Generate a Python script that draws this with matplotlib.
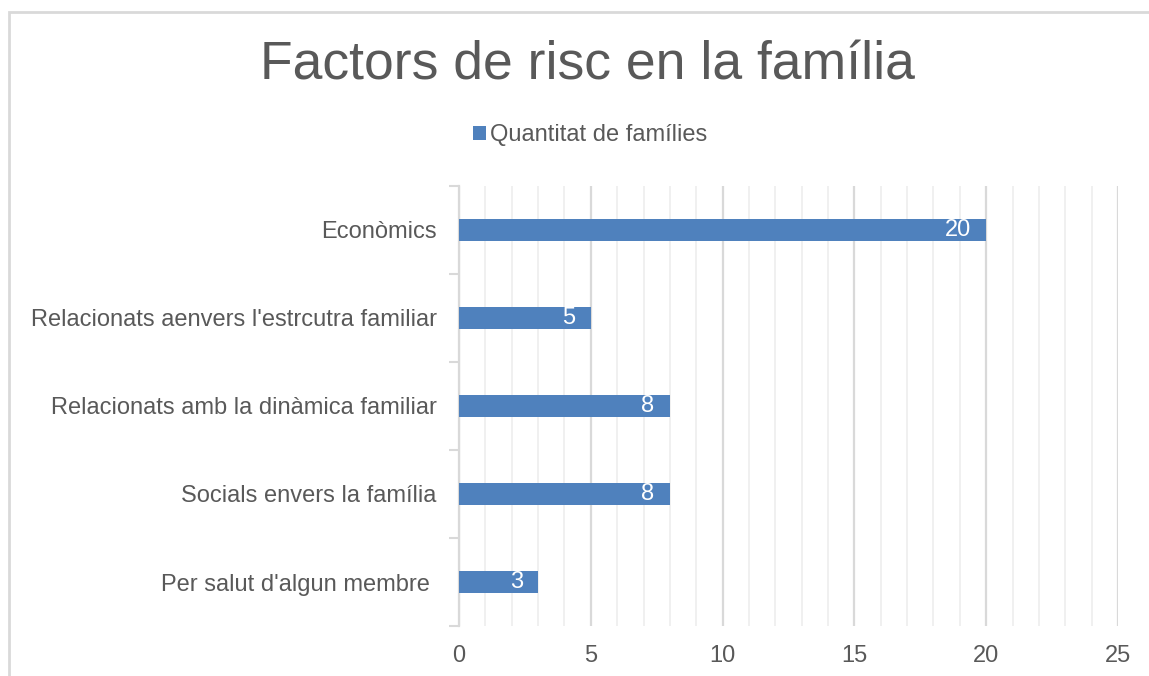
"""Horizontal bar chart: risk factors in the family (Excel-style)."""

import matplotlib

matplotlib.use("Agg")
import matplotlib.pyplot as plt
from matplotlib.patches import Rectangle
from matplotlib.ticker import MultipleLocator

categories = [
    "Econòmics",
    "Relacionats aenvers l'estrcutra familiar",
    "Relacionats amb la dinàmica familiar",
    "Socials envers la família",
    "Per salut d'algun membre ",
]
values = [20, 5, 8, 8, 3]
series_name = "Quantitat de famílies"
title = "Factors de risc en la família"

BAR_COLOR = "#4f81bd"
TEXT_COLOR = "#595959"
GRID_MAJOR = "#d9d9d9"
GRID_MINOR = "#efefef"

plt.rcParams["font.family"] = ["Liberation Sans", "DejaVu Sans"]

W, H = 1149, 676
fig = plt.figure(figsize=(W / 100, H / 100), dpi=100)
ax = fig.add_axes([459 / W, 1 - 626 / H, (1118 - 459) / W, (626 - 186) / H])

positions = list(range(len(categories)))
ax.barh(positions, values, height=0.25, color=BAR_COLOR, label=series_name, zorder=3)
ax.set_ylim(len(categories) - 0.5, -0.5)
ax.set_xlim(0, 25)

for y, v in zip(positions, values):
    ax.annotate(str(v), (v, y), xytext=(-11, 0), textcoords="offset points",
                ha="right", va="center", color="white", fontsize=17, zorder=4)

# gridlines: light every unit, darker every 5
ax.xaxis.set_major_locator(MultipleLocator(5))
ax.xaxis.set_minor_locator(MultipleLocator(1))
ax.grid(axis="x", which="minor", color=GRID_MINOR, linewidth=1.3, zorder=0)
ax.grid(axis="x", which="major", color=GRID_MAJOR, linewidth=1.6, zorder=1)
ax.tick_params(axis="x", which="both", length=0, pad=14, labelsize=17, labelcolor=TEXT_COLOR)

ax.set_yticks(positions)
ax.set_yticklabels(categories)
ax.set_yticks([p - 0.5 for p in range(len(categories) + 1)], minor=True)
ax.tick_params(axis="y", which="major", length=0, pad=16, labelsize=17, labelcolor=TEXT_COLOR)
ax.tick_params(axis="y", which="minor", length=7, width=1.5, color=GRID_MAJOR)

for side in ("top", "right", "bottom"):
    ax.spines[side].set_visible(False)
ax.spines["left"].set_color(GRID_MAJOR)
ax.spines["left"].set_linewidth(1.6)
ax.spines["left"].set_zorder(2)

fig.text(587 / W, 1 - 66 / H, title, ha="center", va="center",
         fontsize=38.5, color=TEXT_COLOR)

fig.legend(loc="center", bbox_to_anchor=(590 / W, 1 - 135 / H), frameon=False,
           fontsize=17, labelcolor=TEXT_COLOR, handlelength=0.55, handleheight=0.55,
           handletextpad=0.2, borderpad=0)

# chart area border (cropped at right and bottom in the source image)
fig.add_artist(Rectangle((8.5 / W, -0.1), 1.2, 1.1 - 12.5 / H, transform=fig.transFigure,
                         fill=False, edgecolor=GRID_MAJOR, linewidth=2))

fig.savefig("out.png", dpi=100)
